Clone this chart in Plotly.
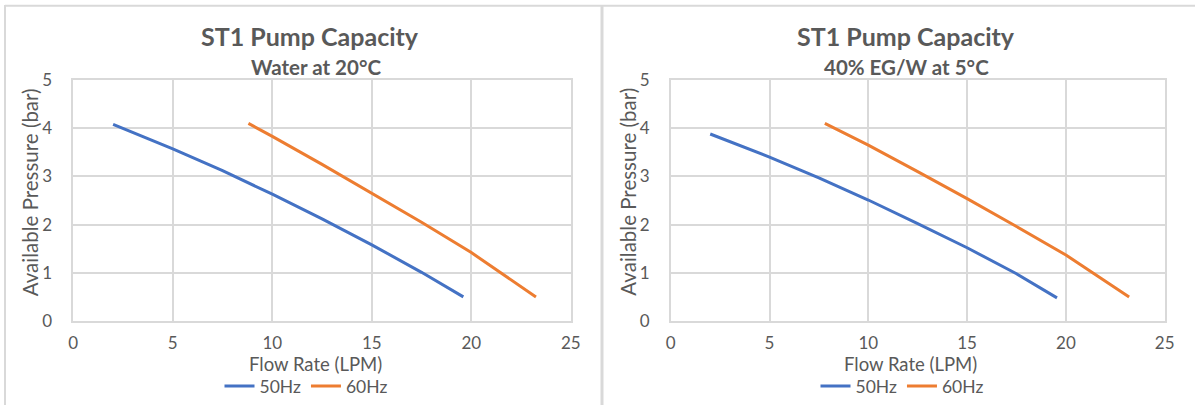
import plotly.graph_objects as go

# left chart: water at 20 C
water_50_x = [2.0, 5.0, 7.5, 10.0, 12.5, 15.0, 17.5, 19.6]
water_50_y = [4.08, 3.57, 3.12, 2.63, 2.12, 1.58, 1.01, 0.50]
water_60_x = [8.8, 10.0, 12.5, 15.0, 17.5, 20.0, 23.25]
water_60_y = [4.10, 3.83, 3.25, 2.65, 2.05, 1.42, 0.50]

# right chart: 40% EG/W at 5 C
glycol_50_x = [2.0, 5.0, 7.5, 10.0, 12.5, 15.0, 17.5, 19.55]
glycol_50_y = [3.88, 3.40, 2.97, 2.51, 2.02, 1.52, 0.98, 0.48]
glycol_60_x = [7.8, 10.0, 12.5, 15.0, 17.5, 20.0, 23.2]
glycol_60_y = [4.10, 3.65, 3.10, 2.54, 1.96, 1.37, 0.50]

TITLE = "ST1 Pump Capacity"
SUBTITLES = ["Water at 20°C", "40% EG/W at 5°C"]
X_TITLE = "Flow Rate (LPM)"
Y_TITLE = "Available Pressure (bar)"
X_TICKS = [0, 5, 10, 15, 20, 25]
Y_TICKS = [0, 1, 2, 3, 4, 5]

BLUE = "#4472c4"
ORANGE = "#ed7d31"
GRID = "#d9d9d9"
TEXT = "#595959"
FONT = '"Lato", "Open Sans", sans-serif'

W, H = 1195, 405


def px(x):
    return x / W


def py(y):
    return 1 - y / H


fig = go.Figure()

panels = [
    (water_50_x, water_50_y, water_60_x, water_60_y, "x", "y", "legend"),
    (glycol_50_x, glycol_50_y, glycol_60_x, glycol_60_y, "x2", "y2", "legend2"),
]
for x50, y50, x60, y60, xa, ya, lg in panels:
    fig.add_trace(go.Scatter(
        x=x50, y=y50, mode="lines", name="50Hz", xaxis=xa, yaxis=ya, legend=lg,
        line=dict(color=BLUE, width=3),
    ))
    fig.add_trace(go.Scatter(
        x=x60, y=y60, mode="lines", name="60Hz", xaxis=xa, yaxis=ya, legend=lg,
        line=dict(color=ORANGE, width=3),
    ))

axis_common = dict(
    showgrid=True,
    gridcolor=GRID,
    gridwidth=1.5,
    showline=True,
    linecolor=GRID,
    linewidth=1.5,
    mirror=True,
    zeroline=False,
    ticks="",
    automargin=False,
    tickfont=dict(family=FONT, size=17, color=TEXT),
    fixedrange=True,
)

plot_left = [(73.3, 570.8), (670.7, 1164.7)]
top_px, bottom_px = 80, 321

fig.update_layout(
    template="none",
    xaxis=dict(axis_common, domain=[px(plot_left[0][0]), px(plot_left[0][1])],
               range=[0, 25], tickvals=X_TICKS, anchor="y", ticklabelstandoff=6),
    yaxis=dict(axis_common, domain=[py(bottom_px), py(top_px)],
               range=[0, 5], tickvals=Y_TICKS, anchor="x", ticklabelstandoff=16),
    xaxis2=dict(axis_common, domain=[px(plot_left[1][0]), px(plot_left[1][1])],
                range=[0, 25], tickvals=X_TICKS, anchor="y2", ticklabelstandoff=6),
    yaxis2=dict(axis_common, domain=[py(bottom_px), py(top_px)],
                range=[0, 5], tickvals=Y_TICKS, anchor="x2", ticklabelstandoff=16),
    width=W,
    height=H,
    margin=dict(l=0, r=0, t=0, b=0, autoexpand=False),
    paper_bgcolor="#ffffff",
    plot_bgcolor="#ffffff",
    font=dict(family=FONT, color=TEXT),
    showlegend=True,
)

legend_common = dict(
    orientation="h",
    xanchor="center",
    yanchor="middle",
    y=py(386),
    font=dict(family=FONT, size=17.5, color=TEXT),
    bgcolor="rgba(0,0,0,0)",
    itemwidth=30,
    tracegroupgap=0,
)
fig.update_layout(
    legend=dict(legend_common, x=px(306)),
    legend2=dict(legend_common, x=px(902)),
)

# titles and axis titles
title_cx = [310, 906]
sub_cx = [316, 907]
ann = dict(xref="paper", yref="paper", showarrow=False, xanchor="center", yanchor="middle")
for i in range(2):
    fig.add_annotation(ann, x=px(title_cx[i]), y=py(36), text=f"<b>{TITLE}</b>",
                       font=dict(family=FONT, size=25, color=TEXT))
    fig.add_annotation(ann, x=px(sub_cx[i]), y=py(67), text=f"<b>{SUBTITLES[i]}</b>",
                       font=dict(family=FONT, size=20.5, color=TEXT))
    cx = (plot_left[i][0] + plot_left[i][1]) / 2 - 7
    fig.add_annotation(ann, x=px(cx), y=py(363.5), text=X_TITLE,
                       font=dict(family=FONT, size=18.5, color=TEXT))
    fig.add_annotation(ann, x=px(plot_left[i][0] - 43), y=py(192), text=Y_TITLE,
                       textangle=-90, font=dict(family=FONT, size=20.5, color=TEXT))

# chart frame lines
frame = dict(type="line", xref="paper", yref="paper", line=dict(color=GRID, width=2))
fig.add_shape(frame, x0=px(5), x1=1, y0=py(5.8), y1=py(5.8))
fig.add_shape(frame, x0=px(5), x1=px(5), y0=py(5), y1=0)
fig.add_shape(frame, x0=px(602), x1=px(602), y0=py(5), y1=0, line=dict(color=GRID, width=3))

fig.write_html(
    "out.html",
    config={"displayModeBar": False},
    post_script="document.body.style.margin='0';",
)
